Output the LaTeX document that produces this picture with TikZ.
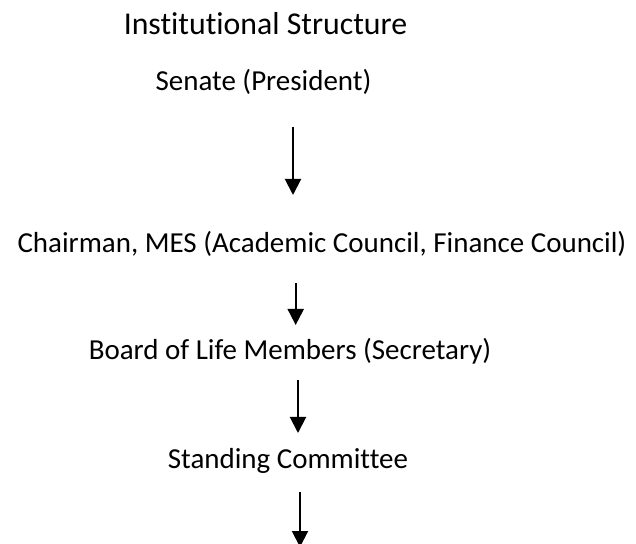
\documentclass[tikz,border=0pt]{standalone}
\usepackage{fontspec}
\setmainfont{Carlito}[Ligatures={NoCommon,NoContextual}]
\usepackage{tikz}
\usetikzlibrary{arrows.meta}
\tikzset{>={Triangle[width=0.4cm,length=0.4cm]}}
\tikzset{
    level/.style={anchor=base, inner sep=0pt, font=\fontsize{20.6}{24}\selectfont},
    head/.style={anchor=base, inner sep=0pt, font=\fontsize{22.6}{26}\selectfont},
    link/.style={->, line width=0.05cm}
}

\begin{document}
\begin{tikzpicture}[x=0.025cm, y=-0.025cm]
    \useasboundingbox (0,0) rectangle (636,544);

    \node[head]  (title)    at (265.5, 35)  {Institutional Structure};
    \node[level] (senate)   at (263.5, 90.7) {Senate (President)};
    \node[level] (chairman) at (322, 252)  {Chairman, MES (Academic Council, Finance Council)};
    \node[level] (board)    at (290, 359)  {Board of Life Members (Secretary)};
    \node[level] (standing) at (288, 468)  {Standing Committee};

    % arrow ends
    \coordinate (s1) at (293, 127);   \coordinate (e1) at (293, 195);
    \coordinate (s2) at (295.7, 283); \coordinate (e2) at (295.7, 325);
    \coordinate (s3) at (298, 380);   \coordinate (e3) at (298, 433);
    \coordinate (s4) at (300, 492);   \coordinate (e4) at (300, 547);

    \draw[link] (s1) -- (e1);
    \draw[link] (s2) -- (e2);
    \draw[link] (s3) -- (e3);
    \draw[link] (s4) -- (e4);

\end{tikzpicture}
\end{document}
